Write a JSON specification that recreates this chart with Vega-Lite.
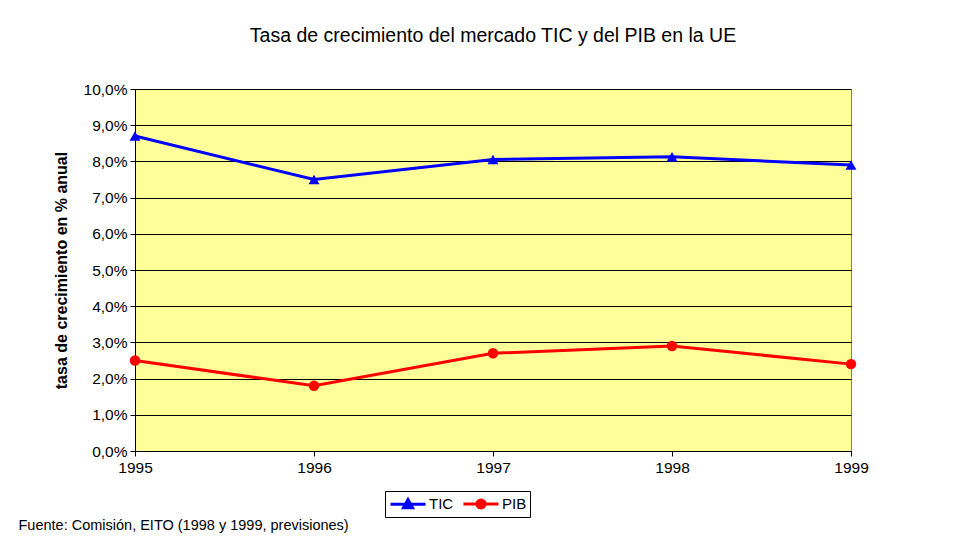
{
  "$schema": "https://vega.github.io/schema/vega-lite/v6.json",
  "width": 716,
  "height": 362,
  "autosize": {"type": "none"},
  "padding": {"left": 135, "top": 89, "right": 114, "bottom": 91},
  "background": "white",
  "title": {
    "text": "Tasa de crecimiento del mercado TIC y del PIB en la UE",
    "font": "Liberation Sans Narrow, Liberation Sans, Arial",
    "fontSize": 19.5,
    "fontWeight": "normal",
    "color": "black",
    "anchor": "middle",
    "offset": 36
  },
  "config": {
    "view": {"fill": "#FFFF99", "stroke": "#808080", "strokeWidth": 1},
    "font": "Liberation Sans, Arial"
  },
  "data": {
    "values": [
      {"year": 1995, "serie": "TIC", "valor": 8.7},
      {"year": 1996, "serie": "TIC", "valor": 7.5},
      {"year": 1997, "serie": "TIC", "valor": 8.05},
      {"year": 1998, "serie": "TIC", "valor": 8.13},
      {"year": 1999, "serie": "TIC", "valor": 7.9},
      {"year": 1995, "serie": "PIB", "valor": 2.5},
      {"year": 1996, "serie": "PIB", "valor": 1.8},
      {"year": 1997, "serie": "PIB", "valor": 2.7},
      {"year": 1998, "serie": "PIB", "valor": 2.9},
      {"year": 1999, "serie": "PIB", "valor": 2.4}
    ]
  },
  "encoding": {
    "x": {
      "field": "year",
      "type": "quantitative",
      "scale": {"domain": [1995, 1999], "nice": false, "zero": false},
      "axis": {
        "values": [1995, 1996, 1997, 1998, 1999],
        "format": "d",
        "grid": false,
        "labelFont": "Liberation Sans, Arial",
        "labelFontSize": 15.5,
        "labelColor": "black",
        "labelPadding": 4,
        "labelFlush": false,
        "domainColor": "black",
        "tickColor": "black",
        "tickSize": 5,
        "title": "Fuente: Comisión, EITO (1998 y 1999, previsiones)",
        "titleFont": "Liberation Sans, Arial",
        "titleFontSize": 14.5,
        "titleFontWeight": "normal",
        "titleColor": "black",
        "titleAnchor": "start",
        "titleAlign": "left",
        "titleBaseline": "alphabetic",
        "titleX": -117,
        "titleY": 78
      }
    },
    "y": {
      "field": "valor",
      "type": "quantitative",
      "scale": {"domain": [0, 10], "nice": false},
      "axis": {
        "values": [0, 1, 2, 3, 4, 5, 6, 7, 8, 9, 10],
        "labelExpr": "replace(format(datum.value, '.1f'), '.', ',') + '%'",
        "labelFont": "Liberation Sans, Arial",
        "labelFontSize": 15.5,
        "labelColor": "black",
        "labelPadding": 3,
        "labelFlush": false,
        "domainColor": "black",
        "tickColor": "black",
        "tickSize": 5,
        "grid": true,
        "gridColor": "black",
        "gridOpacity": 1,
        "gridWidth": 1,
        "title": "tasa de crecimiento en % anual",
        "titleFont": "Liberation Sans, Arial",
        "titleFontSize": 16,
        "titleFontWeight": "bold",
        "titleColor": "black",
        "titlePadding": 14
      }
    }
  },
  "layer": [
    {
      "mark": {"type": "line", "strokeWidth": 3},
      "encoding": {
        "color": {
          "field": "serie",
          "type": "nominal",
          "scale": {"domain": ["TIC", "PIB"], "range": ["#0000FF", "#FF0000"]},
          "legend": {
            "title": null,
            "orient": "none",
            "legendX": 250,
            "legendY": 402,
            "direction": "horizontal",
            "strokeColor": "black",
            "fillColor": "white",
            "padding": 3,
            "cornerRadius": 0,
            "labelFont": "Liberation Sans, Arial",
            "labelFontSize": 15,
            "labelColor": "black",
            "labelOffset": 11,
            "columnPadding": 3,
            "symbolSize": 289,
            "symbolOffset": 10,
            "symbolStrokeWidth": 3,
            "encode": {
              "symbols": {
                "update": {
                  "shape": {"signal": "datum.value === 'TIC' ? 'M-2.06,0L2.06,0M-0.53,0.4L0.53,0.4L0,-0.55Z' : 'M-2.06,0L2.06,0M-0.47,0A0.47,0.47 0 1,0 0.47,0A0.47,0.47 0 1,0 -0.47,0Z'"},
                  "fill": {"signal": "datum.value === 'TIC' ? '#0000FF' : '#FF0000'"},
                  "stroke": {"signal": "datum.value === 'TIC' ? '#0000FF' : '#FF0000'"},
                  "strokeWidth": {"value": 3},
                  "opacity": {"value": 1},
                  "fillOpacity": {"value": 1}
                }
              }
            }
          }
        }
      }
    },
    {
      "transform": [{"filter": "datum.serie === 'TIC'"}],
      "mark": {"type": "point", "shape": "triangle-up", "filled": true, "opacity": 1, "size": 120, "color": "#0000FF"}
    },
    {
      "transform": [{"filter": "datum.serie === 'PIB'"}],
      "mark": {"type": "point", "shape": "circle", "filled": true, "opacity": 1, "size": 110, "color": "#FF0000"}
    }
  ]
}
